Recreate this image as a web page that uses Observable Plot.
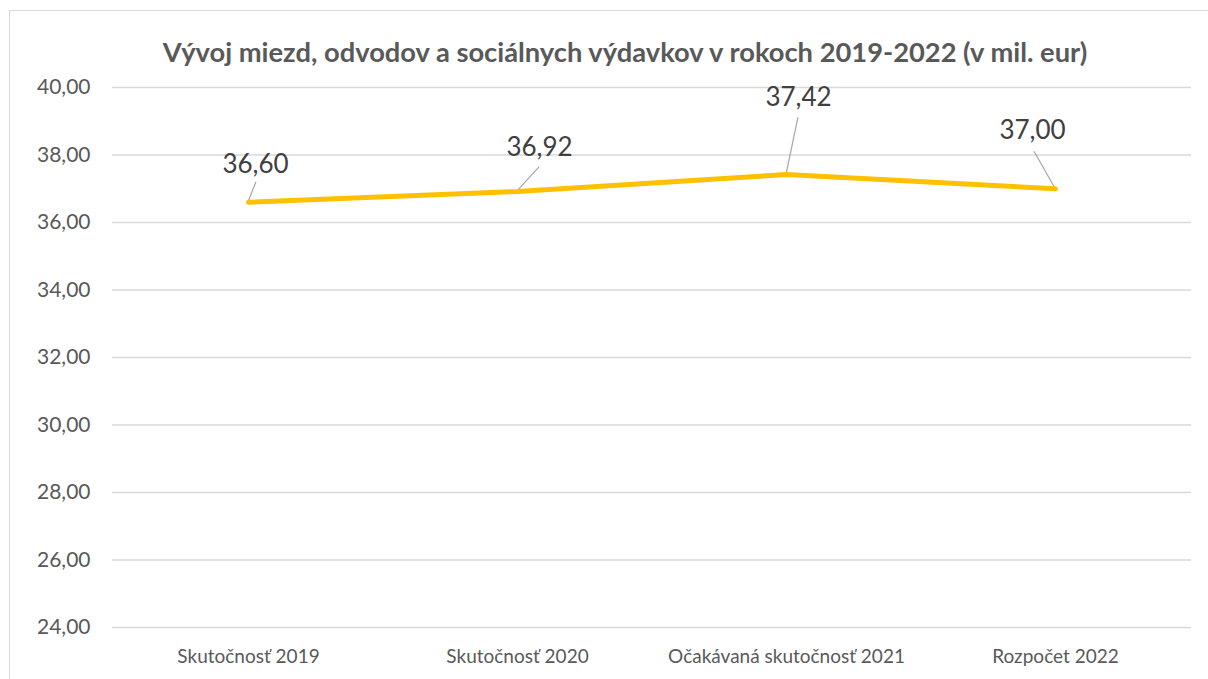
<!DOCTYPE html>
<html><head><meta charset="utf-8">
<script src="https://cdn.jsdelivr.net/npm/d3@7"></script>
<script src="https://cdn.jsdelivr.net/npm/@observablehq/plot@0.6"></script>
<style>
html,body{margin:0;padding:0;background:#fff;overflow:hidden;}
#wrap{position:relative;width:1208px;height:679px;overflow:hidden;background:#fff;}
#border{position:absolute;left:9px;top:10px;width:1300px;height:800px;border:1.5px solid #d9d9d9;box-sizing:border-box;pointer-events:none;}
</style></head>
<body><div id="wrap"><div id="chart"></div><div id="border"></div></div>
<script>
const title = "Vývoj miezd, odvodov a sociálnych výdavkov v rokoch 2019-2022 (v mil. eur)";
const categories = ["Skutočnosť 2019", "Skutočnosť 2020", "Očakávaná skutočnosť 2021", "Rozpočet 2022"];
const values = [36.60, 36.92, 37.42, 37.00];
const yTicks = [24, 26, 28, 30, 32, 34, 36, 38, 40];

// layout only (pixel offsets of data labels and their leader lines)
const labelOffsets = [[7, -38], [22, -44], [12, -77], [-23, -58]];
const leaderOffsets = [[8, -20], [22, -24], [12, -57], [-21, -37]];

const data = categories.map((c, i) => ({category: c, value: values[i]}));
const fmt = v => v.toFixed(2).replace(".", ",");

const leaders = (index, scales) => {
  const g = d3.create("svg:g");
  data.forEach((d, i) => {
    const px = scales.x(d.category), py = scales.y(d.value);
    g.append("line")
      .attr("x1", px + leaderOffsets[i][0]).attr("y1", py + leaderOffsets[i][1])
      .attr("x2", px).attr("y2", py)
      .attr("stroke", "#a6a6a6").attr("stroke-width", 1.2);
  });
  return g.node();
};

const chart = Plot.plot({
  width: 1208,
  height: 679,
  marginLeft: 112,
  marginRight: 17,
  marginTop: 87,
  marginBottom: 52,
  style: {fontFamily: "Lato, sans-serif", fontSize: "21px", color: "#595959", background: "transparent"},
  x: {type: "point", domain: categories, padding: 0.5, label: null, tickSize: 0, tickPadding: 22},
  y: {domain: [24, 40], ticks: yTicks, tickFormat: fmt, tickSize: 0, tickPadding: 22, label: null},
  marks: [
    Plot.ruleY(yTicks, {stroke: "#d9d9d9", strokeWidth: 1.5}),
    leaders,
    Plot.line(data, {x: "category", y: "value", stroke: "#FFC000", strokeWidth: 5, strokeLinecap: "round", strokeLinejoin: "round"}),
    ...data.map((d, i) => Plot.text([d], {
      x: "category", y: "value", text: e => fmt(e.value),
      dx: labelOffsets[i][0], dy: labelOffsets[i][1],
      fontSize: 26, fill: "#404040"
    })),
    Plot.text([title], {text: d => d, frameAnchor: "top", dx: -27, dy: -45, fontSize: 27.3, fontWeight: "bold", fill: "#595959"})
  ]
});
const xTexts = chart.querySelectorAll("g[aria-label='x-axis'] text, g[aria-label='x-axis tick label'] text");
xTexts.forEach(t => t.setAttribute("font-size", "19px"));
document.getElementById("chart").appendChild(chart);
</script>
</body></html>
